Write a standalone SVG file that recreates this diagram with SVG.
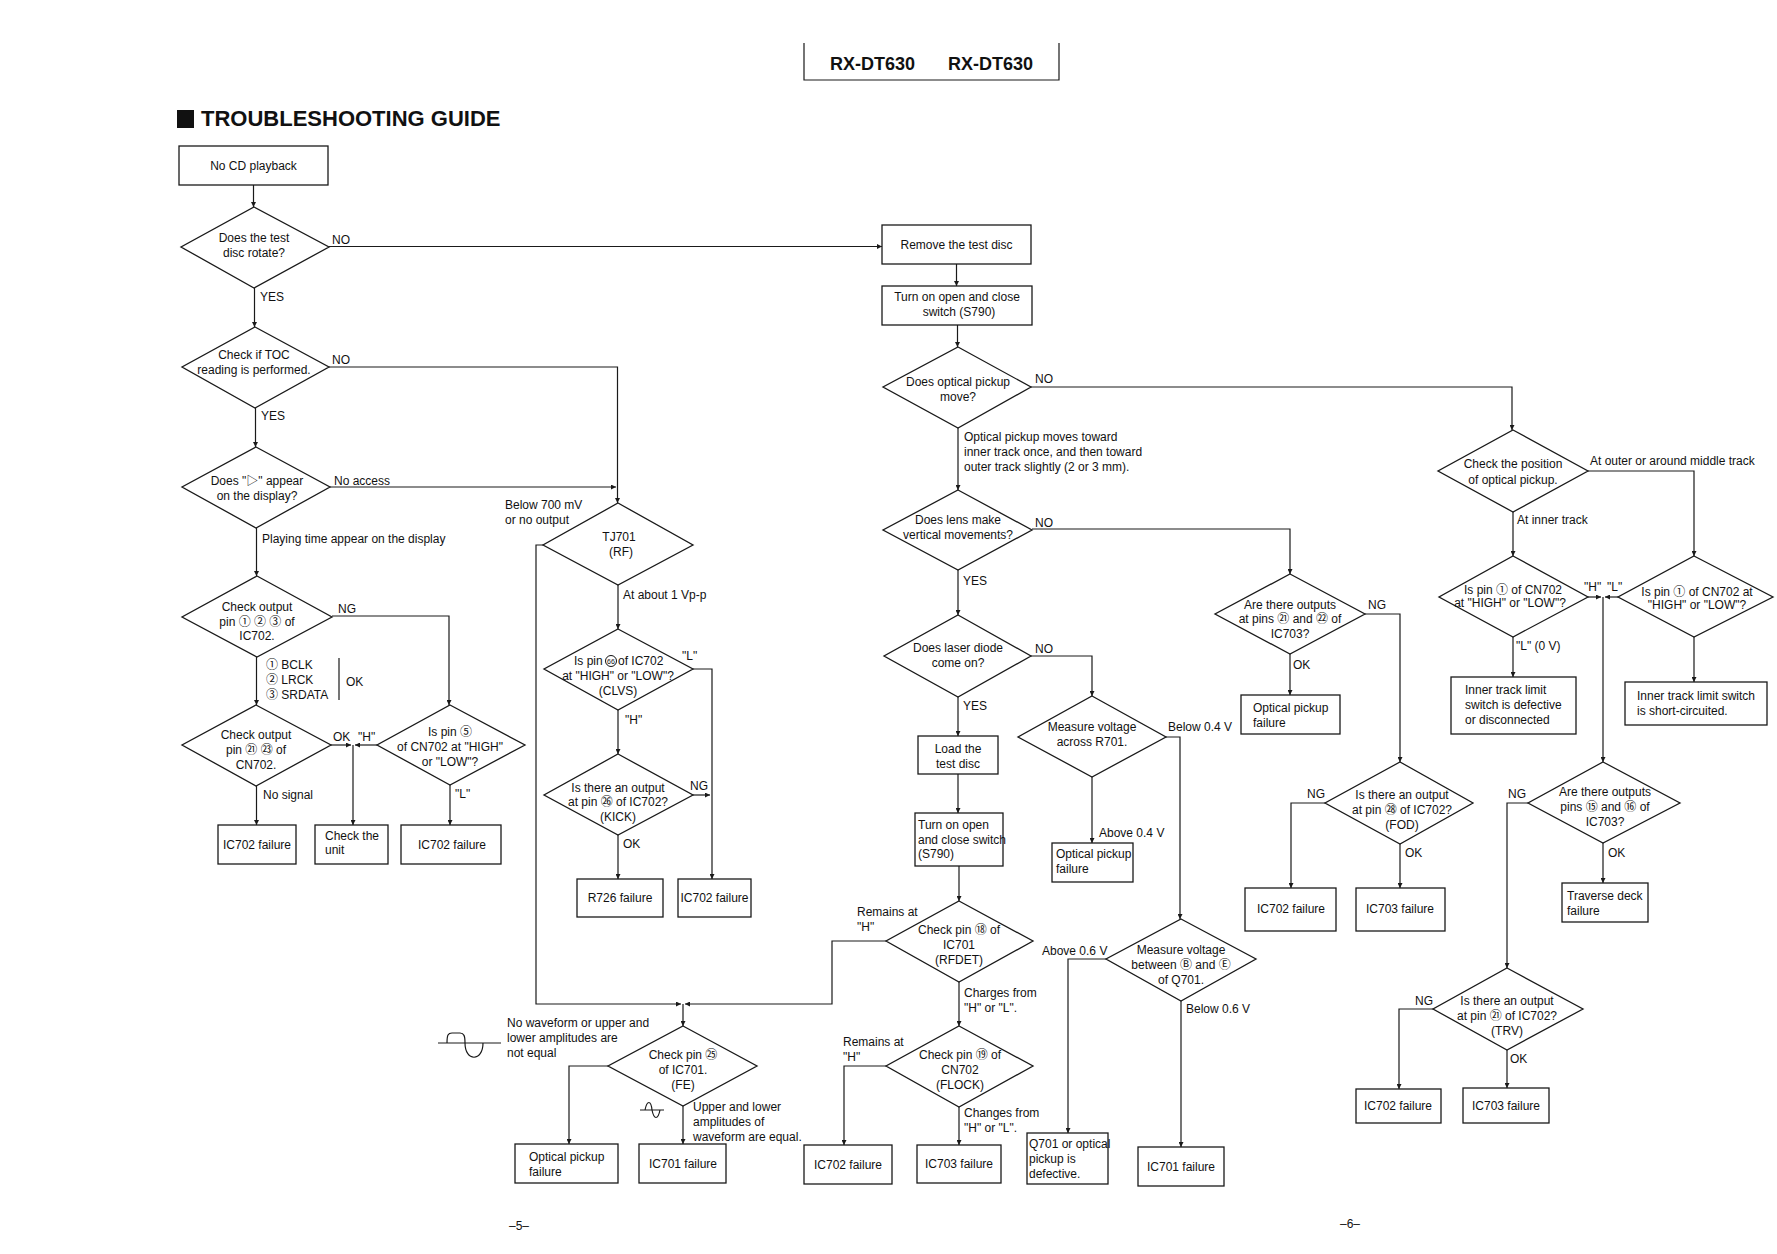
<svg xmlns="http://www.w3.org/2000/svg" width="1777" height="1254" viewBox="0 0 1777 1254">
<style>
text{font-family:"Liberation Sans",Arial,"Noto Sans CJK JP",sans-serif;font-size:12px;fill:#111}
.m{text-anchor:middle}
.b,.d{fill:#fff;stroke:#1a1a1a;stroke-width:1.3}
.c path{fill:none;stroke:#1a1a1a;stroke-width:1.2}
.w{fill:none;stroke:#1a1a1a;stroke-width:1.2}
</style>
<defs>
<marker id="a" markerWidth="6" markerHeight="5" refX="5" refY="2.5" orient="auto" markerUnits="userSpaceOnUse"><path d="M0,0 L5,2.5 L0,5 z" fill="#1a1a1a"/></marker>
</defs>
<rect width="1777" height="1254" fill="#fff"/>

<g id="header">
<path class="w" d="M804,43 V80 H1059 V43"/>
<text x="830" y="70" style="font-size:18px;font-weight:bold">RX-DT630</text>
<text x="948" y="70" style="font-size:18px;font-weight:bold">RX-DT630</text>
<rect x="177" y="110" width="17" height="18" fill="#111"/>
<text x="201" y="126" style="font-size:22px;font-weight:bold">TROUBLESHOOTING GUIDE</text>
<text x="519" y="1230" class="m">–5–</text>
<text x="1350" y="1228" class="m">–6–</text>
</g>

<g class="c" id="connectors">
<path d="M253.5,185 V207" marker-end="url(#a)"/>
<path d="M254.5,288 V327" marker-end="url(#a)"/>
<path d="M255.5,408 V447" marker-end="url(#a)"/>
<path d="M256.5,528 V576" marker-end="url(#a)"/>
<path d="M256.5,657 V705" marker-end="url(#a)"/>
<path d="M332,616 H449 V705" marker-end="url(#a)"/>
<path d="M256.5,786 V825" marker-end="url(#a)"/>
<path d="M331,745 H351" marker-end="url(#a)"/>
<path d="M377,745 H355" marker-end="url(#a)"/>
<path d="M353,745 V825" marker-end="url(#a)"/>
<path d="M450,785 V825" marker-end="url(#a)"/>
<path d="M329,246.5 H882" marker-end="url(#a)"/>
<path d="M329,367 H617.5 V503" marker-end="url(#a)"/>
<path d="M330,487 H616" marker-end="url(#a)"/>
<path d="M543,545 H536 V1004 H681" marker-end="url(#a)"/>
<path d="M886,941 H832 V1004 H685" marker-end="url(#a)"/>
<path d="M683,1004 V1026" marker-end="url(#a)"/>
<path d="M618,585 V629" marker-end="url(#a)"/>
<path d="M693,669 H712 V879" marker-end="url(#a)"/>
<path d="M618,710 V754" marker-end="url(#a)"/>
<path d="M693,795 H710" marker-end="url(#a)"/>
<path d="M618,835 V879" marker-end="url(#a)"/>
<path d="M608,1066 H569 V1144" marker-end="url(#a)"/>
<path d="M683,1106 V1144" marker-end="url(#a)"/>
<path d="M956.5,264 V286" marker-end="url(#a)"/>
<path d="M957.5,325 V347" marker-end="url(#a)"/>
<path d="M1031,387 H1512 V430" marker-end="url(#a)"/>
<path d="M958,428 V490" marker-end="url(#a)"/>
<path d="M1032,529 H1290 V574" marker-end="url(#a)"/>
<path d="M958,570 V615" marker-end="url(#a)"/>
<path d="M1031,656 H1092 V696" marker-end="url(#a)"/>
<path d="M958,697 V736" marker-end="url(#a)"/>
<path d="M958,774 V813" marker-end="url(#a)"/>
<path d="M959,866 V901" marker-end="url(#a)"/>
<path d="M959,982 V1026" marker-end="url(#a)"/>
<path d="M886,1066 H844 V1145" marker-end="url(#a)"/>
<path d="M959,1107 V1145" marker-end="url(#a)"/>
<path d="M1166,737 H1180 V919" marker-end="url(#a)"/>
<path d="M1092,777 V843" marker-end="url(#a)"/>
<path d="M1106,959 H1068 V1133" marker-end="url(#a)"/>
<path d="M1181,1001 V1147" marker-end="url(#a)"/>
<path d="M1365,614 H1400 V762" marker-end="url(#a)"/>
<path d="M1290,654 V695" marker-end="url(#a)"/>
<path d="M1325,803 H1291 V888" marker-end="url(#a)"/>
<path d="M1400,844 V888" marker-end="url(#a)"/>
<path d="M1588,471 H1694 V556" marker-end="url(#a)"/>
<path d="M1513,512 V556" marker-end="url(#a)"/>
<path d="M1588,597 H1601" marker-end="url(#a)"/>
<path d="M1618,597 H1605" marker-end="url(#a)"/>
<path d="M1603,597 V762" marker-end="url(#a)"/>
<path d="M1513,637 V677" marker-end="url(#a)"/>
<path d="M1694,637 V682" marker-end="url(#a)"/>
<path d="M1528,803 H1507 V968" marker-end="url(#a)"/>
<path d="M1603,843 V883" marker-end="url(#a)"/>
<path d="M1433,1009 H1399 V1089" marker-end="url(#a)"/>
<path d="M1507,1050 V1088" marker-end="url(#a)"/>
</g>

<g id="edge-labels">
<text x="332" y="244">NO</text>
<text x="260" y="301">YES</text>
<text x="332" y="364">NO</text>
<text x="261" y="420">YES</text>
<text x="334" y="485">No access</text>
<text x="262" y="543">Playing time appear on the display</text>
<text x="505" y="509">Below 700 mV</text>
<text x="505" y="524">or no output</text>
<text x="338" y="613">NG</text>
<text x="266" y="669">① BCLK</text>
<text x="266" y="684">② LRCK</text>
<text x="266" y="699">③ SRDATA</text>
<path class="w" d="M339,658 V700"/>
<text x="346" y="686">OK</text>
<text x="333" y="741">OK</text>
<text x="358" y="741">"H"</text>
<text x="263" y="799">No signal</text>
<text x="455" y="798">"L"</text>
<text x="623" y="599">At about 1 Vp-p</text>
<text x="682" y="660">"L"</text>
<text x="625" y="724">"H"</text>
<text x="690" y="790">NG</text>
<text x="623" y="848">OK</text>
<text x="1035" y="383">NO</text>
<text x="964" y="441">Optical pickup moves toward</text>
<text x="964" y="456">inner track once, and then toward</text>
<text x="964" y="471">outer track slightly (2 or 3 mm).</text>
<text x="1035" y="527">NO</text>
<text x="963" y="585">YES</text>
<text x="1035" y="653">NO</text>
<text x="963" y="710">YES</text>
<text x="857" y="916">Remains at</text>
<text x="857" y="931">"H"</text>
<text x="964" y="997">Charges from</text>
<text x="964" y="1012">"H" or "L".</text>
<text x="843" y="1046">Remains at</text>
<text x="843" y="1061">"H"</text>
<text x="964" y="1117">Changes from</text>
<text x="964" y="1132">"H" or "L".</text>
<text x="507" y="1027">No waveform or upper and</text>
<text x="507" y="1042">lower amplitudes are</text>
<text x="507" y="1057">not equal</text>
<path class="w" d="M438,1043 H501 M447,1043 C447,1035 448,1033 452,1033 L460,1033 C464,1033 465,1036 465,1043 C465,1062 483,1062 483,1043"/>
<path class="w" d="M640,1110 H664 M645,1110 C647,1100 651,1100 652,1110 C654,1120 658,1120 660,1110"/>
<text x="693" y="1111">Upper and lower</text>
<text x="693" y="1126">amplitudes of</text>
<text x="693" y="1141">waveform are equal.</text>
<text x="1168" y="731">Below 0.4 V</text>
<text x="1099" y="837">Above 0.4 V</text>
<text x="1042" y="955">Above 0.6 V</text>
<text x="1186" y="1013">Below 0.6 V</text>
<text x="1368" y="609">NG</text>
<text x="1293" y="669">OK</text>
<text x="1307" y="798">NG</text>
<text x="1405" y="857">OK</text>
<text x="1590" y="465">At outer or around middle track</text>
<text x="1517" y="524">At inner track</text>
<text x="1584" y="591">"H"</text>
<text x="1607" y="591">"L"</text>
<text x="1516" y="650">"L" (0 V)</text>
<text x="1508" y="798">NG</text>
<text x="1608" y="857">OK</text>
<text x="1415" y="1005">NG</text>
<text x="1510" y="1063">OK</text>
</g>

<g id="n-start"><rect class="b" x="179" y="146" width="149" height="39"/><text class="m" x="253.5" y="170">No CD playback</text></g>
<g id="n-rotate"><polygon class="d" points="254,207 329,247 254,288 181,247"/><text class="m" x="254" y="242">Does the test</text><text class="m" x="254" y="257">disc rotate?</text></g>
<g id="n-toc"><polygon class="d" points="255,327 329,367 255,408 182,367"/><text class="m" x="254" y="359">Check if TOC</text><text class="m" x="254" y="374">reading is performed.</text></g>
<g id="n-display"><polygon class="d" points="256,447 330,487 256,528 182,487"/><text class="m" x="257" y="485">Does "▷" appear</text><text class="m" x="257" y="500">on the display?</text></g>
<g id="n-out123"><polygon class="d" points="257,576 332,617 257,657 182,617"/><text class="m" x="257" y="611">Check output</text><text class="m" x="257" y="626">pin ① ② ③ of</text><text class="m" x="257" y="640">IC702.</text></g>
<g id="n-out2123"><polygon class="d" points="256,705 331,745 256,786 182,745"/><text class="m" x="256" y="739">Check output</text><text class="m" x="256" y="754">pin ㉑ ㉓ of</text><text class="m" x="256" y="769">CN702.</text></g>
<g id="n-pin5"><polygon class="d" points="450,705 525,745 450,785 377,745"/><text class="m" x="450" y="736">Is pin ⑤</text><text class="m" x="450" y="751">of CN702 at "HIGH"</text><text class="m" x="450" y="766">or "LOW"?</text></g>
<g id="n-f1"><rect class="b" x="218" y="825" width="78" height="39"/><text class="m" x="257" y="849">IC702 failure</text></g>
<g id="n-unit"><rect class="b" x="315" y="825" width="73" height="39"/><text x="325" y="840">Check the</text><text x="325" y="854">unit</text></g>
<g id="n-f2"><rect class="b" x="401" y="825" width="100" height="39"/><text class="m" x="452" y="849">IC702 failure</text></g>

<g id="n-tj701"><polygon class="d" points="618,503 693,545 618,585 543,545"/><text class="m" x="619" y="541">TJ701</text><text class="m" x="621" y="556">(RF)</text></g>
<g id="n-clvs"><polygon class="d" points="618,629 693,669 618,710 544,669"/><text x="574" y="665">Is pin</text><circle cx="611" cy="661" r="5.5" fill="none" stroke="#111" stroke-width="1"/><text class="m" x="611" y="663.5" style="font-size:7px">66</text><text x="618" y="665">of IC702</text><text class="m" x="618" y="680">at "HIGH" or "LOW"?</text><text class="m" x="618" y="695">(CLVS)</text></g>
<g id="n-kick"><polygon class="d" points="618,754 693,795 618,835 544,795"/><text class="m" x="618" y="792">Is there an output</text><text class="m" x="618" y="806">at pin ㉖ of IC702?</text><text class="m" x="618" y="821">(KICK)</text></g>
<g id="n-r726"><rect class="b" x="577" y="879" width="86" height="38"/><text class="m" x="620" y="902">R726 failure</text></g>
<g id="n-f3"><rect class="b" x="678" y="879" width="73" height="38"/><text class="m" x="714.5" y="902">IC702 failure</text></g>
<g id="n-fe"><polygon class="d" points="683,1026 757,1066 683,1106 608,1066"/><text class="m" x="683" y="1059">Check pin ㉕</text><text class="m" x="683" y="1074">of IC701.</text><text class="m" x="683" y="1089">(FE)</text></g>
<g id="n-opf1"><rect class="b" x="515" y="1144" width="103" height="39"/><text x="529" y="1161">Optical pickup</text><text x="529" y="1176">failure</text></g>
<g id="n-ic701a"><rect class="b" x="639" y="1144" width="87" height="39"/><text class="m" x="683" y="1168">IC701 failure</text></g>

<g id="n-remove"><rect class="b" x="882" y="225" width="149" height="39"/><text class="m" x="956.5" y="249">Remove the test disc</text></g>
<g id="n-s790a"><rect class="b" x="882" y="286" width="150" height="39"/><text class="m" x="957" y="301">Turn on open and close</text><text class="m" x="959" y="316">switch (S790)</text></g>
<g id="n-move"><polygon class="d" points="958,347 1031,387 958,428 883,387"/><text class="m" x="958" y="386">Does optical pickup</text><text class="m" x="958" y="401">move?</text></g>
<g id="n-lens"><polygon class="d" points="958,490 1032,530 958,570 883,530"/><text class="m" x="958" y="524">Does lens make</text><text class="m" x="958" y="539">vertical movements?</text></g>
<g id="n-laser"><polygon class="d" points="958,615 1031,656 958,697 884,656"/><text class="m" x="958" y="652">Does laser diode</text><text class="m" x="958" y="667">come on?</text></g>
<g id="n-load"><rect class="b" x="918" y="736" width="80" height="38"/><text class="m" x="958" y="753">Load the</text><text class="m" x="958" y="768">test disc</text></g>
<g id="n-s790b"><rect class="b" x="915" y="813" width="88" height="53"/><text x="918" y="829">Turn on open</text><text x="918" y="844">and close switch</text><text x="918" y="858">(S790)</text></g>
<g id="n-rfdet"><polygon class="d" points="959,901 1033,941 959,982 886,941"/><text class="m" x="959" y="934">Check pin ⑱ of</text><text class="m" x="959" y="949">IC701</text><text class="m" x="959" y="964">(RFDET)</text></g>
<g id="n-flock"><polygon class="d" points="959,1026 1033,1066 959,1107 886,1066"/><text class="m" x="960" y="1059">Check pin ⑲ of</text><text class="m" x="960" y="1074">CN702</text><text class="m" x="960" y="1089">(FLOCK)</text></g>
<g id="n-ic702b"><rect class="b" x="804" y="1145" width="88" height="39"/><text class="m" x="848" y="1169">IC702 failure</text></g>
<g id="n-ic703a"><rect class="b" x="917" y="1145" width="84" height="38"/><text class="m" x="959" y="1168">IC703 failure</text></g>

<g id="n-r701"><polygon class="d" points="1092,696 1166,737 1092,777 1018,737"/><text class="m" x="1092" y="731">Measure voltage</text><text class="m" x="1092" y="746">across R701.</text></g>
<g id="n-opf2"><rect class="b" x="1052" y="843" width="81" height="39"/><text x="1056" y="858">Optical pickup</text><text x="1056" y="873">failure</text></g>
<g id="n-q701"><polygon class="d" points="1181,919 1256,959 1181,1001 1106,959"/><text class="m" x="1181" y="954">Measure voltage</text><text class="m" x="1181" y="969">between Ⓑ and Ⓔ</text><text class="m" x="1181" y="984">of Q701.</text></g>
<g id="n-q701box"><rect class="b" x="1027" y="1133" width="81" height="51"/><text x="1029" y="1148">Q701 or optical</text><text x="1029" y="1163">pickup is</text><text x="1029" y="1178">defective.</text></g>
<g id="n-ic701b"><rect class="b" x="1138" y="1147" width="86" height="39"/><text class="m" x="1181" y="1171">IC701 failure</text></g>

<g id="n-pins2122"><polygon class="d" points="1290,574 1365,614 1290,654 1215,614"/><text class="m" x="1290" y="609">Are there outputs</text><text class="m" x="1290" y="623">at pins ㉑ and ㉒ of</text><text class="m" x="1290" y="638">IC703?</text></g>
<g id="n-opf3"><rect class="b" x="1241" y="695" width="99" height="39"/><text x="1253" y="712">Optical pickup</text><text x="1253" y="727">failure</text></g>
<g id="n-fod"><polygon class="d" points="1400,762 1473,803 1400,844 1325,803"/><text class="m" x="1402" y="799">Is there an output</text><text class="m" x="1402" y="814">at pin ㉘ of IC702?</text><text class="m" x="1402" y="829">(FOD)</text></g>
<g id="n-ic702c"><rect class="b" x="1245" y="888" width="91" height="43"/><text class="m" x="1291" y="913">IC702 failure</text></g>
<g id="n-ic703b"><rect class="b" x="1356" y="888" width="89" height="43"/><text class="m" x="1400" y="913">IC703 failure</text></g>

<g id="n-position"><polygon class="d" points="1513,430 1588,471 1513,512 1438,471"/><text class="m" x="1513" y="468">Check the position</text><text class="m" x="1513" y="484">of optical pickup.</text></g>
<g id="n-cn702l"><polygon class="d" points="1513,556 1588,597 1513,637 1439,597"/><text class="m" x="1513" y="594">Is pin ① of CN702</text><text class="m" x="1510" y="607">at "HIGH" or "LOW"?</text></g>
<g id="n-cn702r"><polygon class="d" points="1694,556 1773,597 1694,637 1618,597"/><text class="m" x="1697" y="596">Is pin ① of CN702 at</text><text class="m" x="1697" y="609">"HIGH" or "LOW"?</text></g>
<g id="n-inner"><rect class="b" x="1451" y="677" width="125" height="57"/><text x="1465" y="694">Inner track limit</text><text x="1465" y="709">switch is defective</text><text x="1465" y="724">or disconnected</text></g>
<g id="n-short"><rect class="b" x="1625" y="682" width="142" height="43"/><text x="1637" y="700">Inner track limit switch</text><text x="1637" y="715">is short-circuited.</text></g>
<g id="n-pins1516"><polygon class="d" points="1603,762 1680,803 1603,843 1528,803"/><text class="m" x="1605" y="796">Are there outputs</text><text class="m" x="1605" y="811">pins ⑮ and ⑯ of</text><text class="m" x="1605" y="826">IC703?</text></g>
<g id="n-traverse"><rect class="b" x="1562" y="883" width="86" height="39"/><text x="1567" y="900">Traverse deck</text><text x="1567" y="915">failure</text></g>
<g id="n-trv"><polygon class="d" points="1507,968 1583,1009 1507,1050 1433,1009"/><text class="m" x="1507" y="1005">Is there an output</text><text class="m" x="1507" y="1020">at pin ㉑ of IC702?</text><text class="m" x="1507" y="1035">(TRV)</text></g>
<g id="n-ic702d"><rect class="b" x="1356" y="1089" width="85" height="34"/><text class="m" x="1398" y="1110">IC702 failure</text></g>
<g id="n-ic703c"><rect class="b" x="1463" y="1088" width="86" height="35"/><text class="m" x="1506" y="1110">IC703 failure</text></g>
</svg>
